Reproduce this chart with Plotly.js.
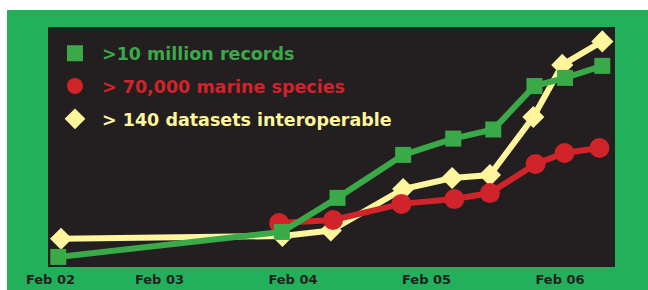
<!DOCTYPE html>
<html>
<head>
<meta charset="utf-8">
<script src="https://cdn.plot.ly/plotly-3.0.1.min.js"></script>
<style>
  html, body { margin: 0; padding: 0; background: #ffffff; }
  #chart { position: absolute; left: 7px; top: 10px; width: 641px; height: 280px; }
</style>
</head>
<body>
<div id="chart"></div>
<script>
// x = months since Feb 2002, y = relative growth (0-100 scale, no axis shown)
const recordsX  = [2.9, 23.0, 28.0, 33.9, 38.4, 42.0, 45.7, 48.45, 51.8];
const recordsY  = [4.2, 14.6, 28.8, 46.7, 53.5, 57.3, 75.4, 78.8, 83.8];
const speciesX  = [22.75, 27.6, 33.75, 38.5, 41.7, 45.8, 48.4, 51.55];
const speciesY  = [18.3, 19.6, 26.3, 28.3, 30.8, 42.9, 47.5, 49.6];
const datasetsX = [3.15, 23.05, 27.4, 33.9, 38.3, 41.7, 45.6, 48.2, 51.8];
const datasetsY = [11.8, 12.9, 15.2, 32.5, 37.1, 38.3, 62.5, 84.2, 94.0];

const tickVals  = [2.2, 12, 24, 36, 48];
const tickText  = ["Feb 02", "Feb 03", "Feb 04", "Feb 05", "Feb 06"];

const names = ["&gt;10 million records", "&gt; 70,000 marine species", "&gt; 140 datasets interoperable"];

const GREEN = "#3aaa49", RED = "#d1232a", YELLOW = "#fff59d";
const FONT = "'DejaVu Sans', 'Liberation Sans', sans-serif";

const traces = [
  { x: datasetsX, y: datasetsY, mode: "lines+markers", showlegend: false,
    line: { color: YELLOW, width: 6 },
    marker: { symbol: "diamond", size: 17, color: YELLOW } },
  { x: speciesX, y: speciesY, mode: "lines+markers", showlegend: false,
    line: { color: RED, width: 6 },
    marker: { symbol: "circle", size: 20, color: RED } },
  { x: recordsX, y: recordsY, mode: "lines+markers", showlegend: false,
    line: { color: GREEN, width: 6 },
    marker: { symbol: "square", size: 16, color: GREEN } },
  // legend entries (markers only, as in the original)
  { x: [null], y: [null], mode: "markers", legendgroup: "a", legendrank: 1,
    name: '<span style="color:' + GREEN + '">' + names[0] + '</span>',
    marker: { symbol: "square", size: 16, color: GREEN } },
  { x: [null], y: [null], mode: "markers", legendgroup: "b", legendrank: 2,
    name: '<span style="color:' + RED + '">' + names[1] + '</span>',
    marker: { symbol: "circle", size: 20, color: RED } },
  { x: [null], y: [null], mode: "markers", legendgroup: "c", legendrank: 3,
    name: '<span style="color:' + YELLOW + '">' + names[2] + '</span>',
    marker: { symbol: "diamond", size: 17, color: YELLOW } }
];

const layout = {
  width: 641, height: 280,
  margin: { l: 41, r: 33, t: 17, b: 23, pad: 0 },
  paper_bgcolor: "#22b05a",
  plot_bgcolor: "#231f20",
  font: { family: FONT, color: "#231f20" },
  xaxis: {
    range: [1.98, 52.94], showgrid: false, zeroline: false, showline: false,
    ticks: "", tickvals: tickVals, ticktext: tickText, ticklabelstandoff: 3,
    tickfont: { family: FONT, size: 13, weight: "bold", color: "#231f20" }, fixedrange: true
  },
  yaxis: {
    range: [0, 100], visible: false, showgrid: false, zeroline: false, fixedrange: true
  },
  showlegend: true,
  legend: {
    x: 0.0, xanchor: "left", y: 0.965, yanchor: "top",
    bgcolor: "rgba(0,0,0,0)", borderwidth: 0, itemwidth: 44,
    font: { family: FONT, size: 17.5, weight: "bold", color: "#ffffff" },
    tracegroupgap: 7, traceorder: "grouped", itemclick: false
  }
};

Plotly.newPlot("chart", traces, layout, { staticPlot: true, displayModeBar: false });
</script>
</body>
</html>
